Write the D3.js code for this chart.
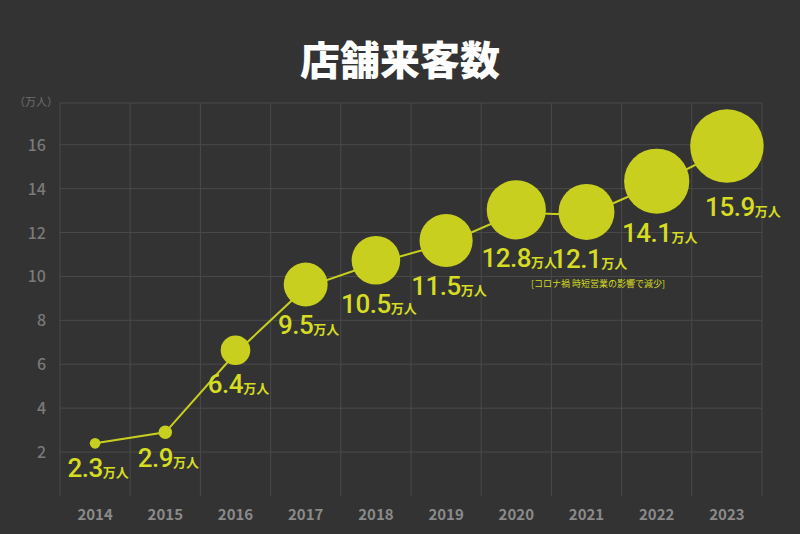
<!DOCTYPE html>
<html><head><meta charset="utf-8">
<script src="https://cdn.jsdelivr.net/npm/d3@7"></script>
<style>
body{margin:0;background:#333333;}
svg{display:block;font-family:"Noto Sans CJK JP","Noto Sans",sans-serif;}
</style></head>
<body><div class="chart"></div>
<script>
var years = ["2014","2015","2016","2017","2018","2019","2020","2021","2022","2023"];
var visitors = [2.3, 2.9, 6.4, 9.5, 10.5, 11.5, 12.8, 12.1, 14.1, 15.9];
// where the line is actually drawn in the picture (not always the label value)
var linePos = [2.4, 2.9, 6.5, 9.5, 10.6, 11.5, 12.9, 12.8, 14.2, 15.8];
var yTicks = [2, 4, 6, 8, 10, 12, 14, 16];
var note = "[コロナ禍 時短営業の影響で減少]";

var W = 800, H = 534;
var lime = "#c8cf1f", textLime = "#d5dc22";

var svg = d3.select(".chart").append("svg").attr("width", W).attr("height", H);
svg.append("rect").attr("width", W).attr("height", H).attr("fill", "#333333");

svg.append("text").attr("x", 400).attr("y", 75).attr("text-anchor", "middle")
    .attr("fill", "#fff").attr("font-size", 40).attr("font-weight", 900).text("店舗来客数");

var x = d3.scaleBand().domain(years).range([60, 762]);
var y = d3.scaleLinear().domain([0, 17.9]).range([496, 103]);
var r = d3.scaleLinear().domain([0, 16]).range([0, 37]);

var grid = svg.append("g").attr("stroke", "#4a4a4a").attr("stroke-width", 1);
years.forEach(function(d) {
    grid.append("line").attr("x1", x(d)).attr("x2", x(d)).attr("y1", 103).attr("y2", 496);
});
grid.append("line").attr("x1", 762).attr("x2", 762).attr("y1", 103).attr("y2", 496);
grid.append("line").attr("x1", 60).attr("x2", 762).attr("y1", 103).attr("y2", 103);
yTicks.forEach(function(t) {
    grid.append("line").attr("x1", 60).attr("x2", 762).attr("y1", y(t)).attr("y2", y(t));
});

svg.selectAll(".yt").data(yTicks).enter().append("text")
    .attr("x", 46).attr("y", function(d) { return y(d) + 6; }).attr("text-anchor", "end")
    .attr("fill", "#7a7a7a").attr("font-size", 16).attr("font-weight", 500).text(function(d) { return d; });
svg.append("text").attr("x", 36).attr("y", 106).attr("text-anchor", "middle")
    .attr("fill", "#6f6f6f").attr("font-size", 11).text("（万人）");

svg.selectAll(".xt").data(years).enter().append("text")
    .attr("x", function(d) { return x(d) + x.bandwidth() / 2; }).attr("y", 520)
    .attr("text-anchor", "middle").attr("fill", "#8a8a8a").attr("font-size", 15).attr("font-weight", 700)
    .text(function(d) { return d; });

var cx = function(i) { return x(years[i]) + x.bandwidth() / 2; };
var line = d3.line().x(function(d, i) { return cx(i); }).y(function(d) { return y(d); });
svg.append("path").attr("d", line(linePos)).attr("fill", "none").attr("stroke", lime).attr("stroke-width", 2);

svg.selectAll(".bub").data(visitors).enter().append("circle")
    .attr("cx", function(d, i) { return cx(i); })
    .attr("cy", function(d, i) { return y(linePos[i]) - (i > 1 ? 3 : 0); })
    .attr("r", function(d) { return Math.max(5, r(d)); })
    .attr("fill", lime);

svg.selectAll(".lab").data(visitors).enter().append("text")
    .attr("x", function(d, i) { return cx(i) + (i == years.length - 1 ? 16 : 3); })
    .attr("y", function(d, i) {
        var cy = y(linePos[i]) - (i > 1 ? 3 : 0);
        if (i == years.length - 1) return cy + 70;
        return cy + Math.max(5, r(d)) + 28;
    })
    .attr("text-anchor", "middle").attr("fill", textLime)
    .each(function(d) {
        var t = d3.select(this);
        t.append("tspan").attr("font-family", "Roboto, sans-serif").attr("font-weight", 500)
            .attr("font-size", 26).attr("letter-spacing", -0.5).text(d.toFixed(1));
        t.append("tspan").attr("font-size", 13).attr("font-weight", 700).text("万人");
    });

svg.append("text").attr("x", 598).attr("y", 287).attr("text-anchor", "middle")
    .attr("fill", textLime).attr("font-size", 9).text(note);
</script></body></html>
